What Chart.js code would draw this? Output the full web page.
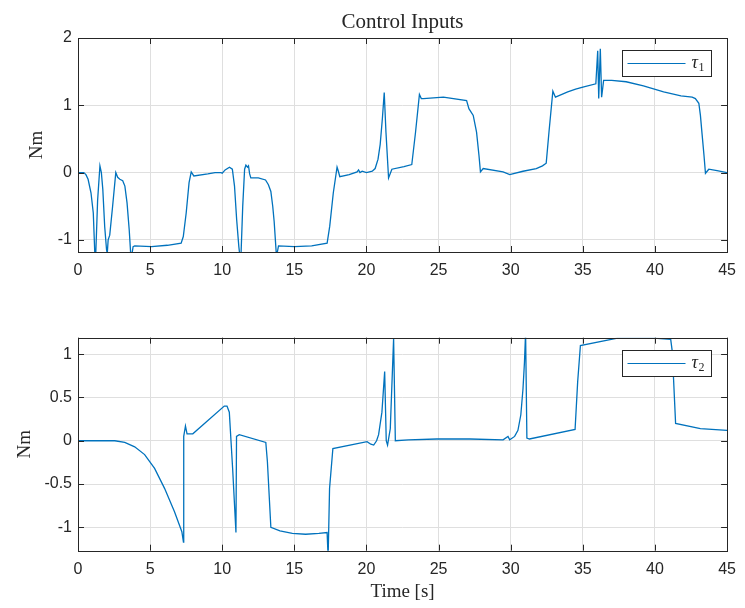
<!DOCTYPE html>
<html>
<head>
<meta charset="utf-8">
<title>Control Inputs</title>
<script src="https://cdn.jsdelivr.net/npm/chart.js@4/dist/chart.umd.min.js"></script>
<style>
  body { margin: 0; background: #fff; }
  canvas { display: block; }
</style>
</head>
<body>
<canvas id="tau1Chart" width="745" height="300"></canvas>
<canvas id="tau2Chart" width="745" height="308"></canvas>
<script>
const xTicks = [0, 5, 10, 15, 20, 25, 30, 35, 40, 45];
const tau1Ticks = [-1, 0, 1, 2];
const tau2Ticks = [-1, -0.5, 0, 0.5, 1];

// tau1
const tau1Time = [
  0, 0.4, 0.55, 0.7, 0.9, 1.06, 1.2, 1.36, 1.52, 1.62, 1.72,
  1.85, 1.98, 2.03, 2.09, 2.2, 2.4, 2.62, 2.75, 2.9, 3.1,
  3.25, 3.4, 3.55, 3.68, 3.82, 3.93, 5.1, 6.2, 7.15, 7.3,
  7.5, 7.7, 7.85, 8.03, 9.0, 9.5, 9.92, 10.0, 10.2, 10.5,
  10.7, 10.85, 11.0, 11.15, 11.28, 11.42, 11.55, 11.64, 11.75, 11.82,
  11.9, 11.98, 12.5, 13.0, 13.2, 13.37, 13.5, 13.6, 13.76, 13.9,
  15.0, 16.2, 17.27, 17.45, 17.7, 17.96, 18.05, 18.15, 18.8, 19.35,
  19.45, 19.55, 19.7, 20.0, 20.4, 20.6, 20.8, 20.95, 21.1, 21.23, 21.35,
  21.53, 21.76, 22.6, 23.14, 23.4, 23.67, 23.8, 23.95, 25.33, 26.94,
  27.1, 27.4, 27.63, 27.8, 27.9, 28.09, 29.47, 29.93, 30.85, 31.77,
  32.2, 32.46, 32.65, 32.92, 33.1, 33.95, 34.5, 35.0, 35.9, 36.03, 36.1, 36.21,
  36.3, 36.44, 37.0, 38.0, 39.2, 40.6, 41.8, 42.58, 42.8, 43.04, 43.15,
  43.27, 43.4, 43.5, 43.73, 44.3, 45
];
const tau1Value = [
  0, 0, -0.03, -0.1, -0.3, -0.6, -1.4, -0.41, 0.1, 0.0, -0.25,
  -0.8, -1.15, -1.2, -1.0, -0.93, -0.5, 0, -0.07, -0.1, -0.12,
  -0.2, -0.45, -0.85, -1.3, -1.1, -1.09, -1.1, -1.08, -1.05, -0.95,
  -0.6, -0.15, 0.01, -0.05, -0.02, 0, 0, -0.01, 0.04, 0.08,
  0.05, -0.2, -0.7, -1.1, -1.35, -0.5, 0.05, 0.11, 0.08, 0.1,
  -0.02, -0.08, -0.08, -0.11, -0.18, -0.28, -0.5, -0.73, -1.25, -1.09,
  -1.1, -1.09, -1.05, -0.8, -0.3, 0.08, 0.02, -0.06, -0.03, 0.01,
  0.04, 0, 0.02, 0, 0.02, 0.06, 0.2, 0.42, 0.8, 1.19, 0.6,
  -0.08, 0.05, 0.09, 0.12, 0.6, 1.16, 1.1, 1.1, 1.12, 1.07,
  0.95, 0.85, 0.6, 0.25, 0.01, 0.06, 0.01, -0.03, 0.02, 0.06,
  0.1, 0.14, 0.6, 1.21, 1.12, 1.2, 1.24, 1.27, 1.32, 1.81, 1.1, 1.84,
  1.12, 1.37, 1.37, 1.35, 1.29, 1.2, 1.14, 1.12, 1.1, 1.03, 0.85,
  0.56, 0.25, -0.01, 0.05, 0.03, 0
];

// tau2
const tau2Time = [
  0, 2.55, 3.24, 3.93, 4.62, 5.31, 6.0, 6.69, 7.2, 7.31,
  7.33, 7.45, 7.56, 7.96, 10.14, 10.33, 10.49, 10.72, 10.95, 10.99,
  11.18, 13.02, 13.13, 13.37, 14.0, 14.86, 15.78, 16.7, 17.27, 17.34, 17.44,
  17.67, 20.04, 20.3, 20.5, 20.7, 20.84, 21.07, 21.26, 21.37, 21.46,
  21.65, 21.88, 22.0, 22.9, 24.87, 27.17, 29.47, 29.81, 29.93, 30.27,
  30.5, 30.7, 30.85, 30.95, 31.03, 31.12, 31.3, 34.46, 34.64, 34.83, 37.4, 39.94,
  41.09, 41.2, 41.43, 43.15, 45
];
const tau2Value = [
  0, 0, -0.02, -0.07, -0.16, -0.32, -0.55, -0.82, -1.05, -1.17,
  0.05, 0.17, 0.08, 0.08, 0.4, 0.4, 0.33, -0.32, -1.06, 0.05,
  0.07, -0.02, -0.24, -1.0, -1.04, -1.07, -1.08, -1.07, -1.06, -1.35, -0.55,
  -0.09, -0.01, -0.04, -0.05, 0, 0.07, 0.33, 0.8, 0, -0.05,
  0.14, 1.18, 0, 0.01, 0.02, 0.02, 0.01, 0.05, 0.01, 0.05,
  0.12, 0.3, 0.6, 0.9, 1.25, 0.03, 0.02, 0.13, 0.68, 1.1, 1.185, 1.185,
  1.17, 1.03, 0.2, 0.14, 0.12
];

const axisColor = "#262626";
const gridColor = "#dfdfdf";
const lineColor = "#0072BD";
const sansFont = "'Liberation Sans', Arial, sans-serif";
const serifFont = "'Liberation Serif', 'Times New Roman', serif";

// MATLAB-style box: border all round, inward ticks, legend in the top right corner
const matlabBox = {
  id: "matlabBox",
  afterDraw(chart) {
    const { ctx, chartArea: a, scales } = chart;
    const yTicks = chart.options.plugins.matlabBox.yTicks;
    ctx.save();
    ctx.strokeStyle = axisColor;
    ctx.lineWidth = 1;
    ctx.beginPath();
    xTicks.forEach(v => {
      const x = Math.round(scales.x.getPixelForValue(v)) + 0.5;
      ctx.moveTo(x, a.bottom); ctx.lineTo(x, a.bottom - 6);
      ctx.moveTo(x, a.top); ctx.lineTo(x, a.top + 6);
    });
    yTicks.forEach(v => {
      const y = Math.round(scales.y.getPixelForValue(v)) + 0.5;
      ctx.moveTo(a.left, y); ctx.lineTo(a.left + 6, y);
      ctx.moveTo(a.right, y); ctx.lineTo(a.right - 6, y);
    });
    ctx.stroke();
    ctx.strokeRect(Math.round(a.left) + 0.5, Math.round(a.top) + 0.5,
      Math.round(a.right - a.left), Math.round(a.bottom - a.top));

    // legend
    const ds = chart.data.datasets[0];
    const bw = 89, bh = 26;
    const bx = Math.round(a.right - 16 - bw) + 0.5;
    const by = Math.round(a.top + 12) + 0.5;
    ctx.fillStyle = "#fff";
    ctx.fillRect(bx, by, bw, bh);
    ctx.strokeRect(bx, by, bw, bh);
    const cy = by + bh / 2;
    ctx.strokeStyle = lineColor;
    ctx.lineWidth = 1.2;
    ctx.beginPath();
    ctx.moveTo(bx + 5, cy); ctx.lineTo(bx + 63, cy);
    ctx.stroke();
    ctx.fillStyle = axisColor;
    ctx.textBaseline = "alphabetic";
    ctx.textAlign = "left";
    ctx.font = "italic 18px " + serifFont;
    ctx.fillText(ds.label, bx + 69, cy + 4);
    const w = ctx.measureText(ds.label).width;
    ctx.font = "12px " + serifFont;
    ctx.fillText(ds.sub, bx + 69 + w + 0.5, cy + 7);
    ctx.restore();
  }
};

function makeChart(id, time, values, label, sub, yTicks, yMin, yMax, cfg) {
  const points = time.map((t, i) => ({ x: t, y: values[i] }));
  return new Chart(document.getElementById(id), {
    type: "line",
    data: {
      datasets: [{
        label: label,
        sub: sub,
        data: points,
        borderColor: lineColor,
        borderWidth: 1.3,
        pointRadius: 0,
        tension: 0,
        fill: false
      }]
    },
    options: {
      responsive: false,
      animation: false,
      devicePixelRatio: 1,
      layout: { padding: { left: 0, right: 15, top: cfg.padTop, bottom: 0 } },
      plugins: {
        legend: { display: false },
        tooltip: { enabled: false },
        title: cfg.title,
        matlabBox: { yTicks: yTicks }
      },
      scales: {
        x: {
          type: "linear",
          min: 0,
          max: 45,
          afterBuildTicks: s => { s.ticks = xTicks.map(v => ({ value: v })); },
          afterFit: s => { s.height = cfg.xHeight; },
          ticks: {
            autoSkip: false,
            maxRotation: 0,
            padding: 9,
            color: axisColor,
            font: { family: sansFont, size: 16 },
            callback: v => String(v)
          },
          grid: { color: gridColor, drawTicks: false },
          border: { display: false },
          title: cfg.xTitle
        },
        y: {
          min: yMin,
          max: yMax,
          afterBuildTicks: s => { s.ticks = yTicks.map(v => ({ value: v })); },
          afterFit: s => { s.width = 78; },
          ticks: {
            autoSkip: false,
            padding: 6,
            color: axisColor,
            font: { family: sansFont, size: 16 },
            callback: v => String(v)
          },
          grid: { color: gridColor, drawTicks: false },
          border: { display: false },
          title: {
            display: true,
            text: "Nm",
            color: axisColor,
            font: { family: serifFont, size: 19 },
            padding: { top: cfg.yTitlePad, bottom: 0 }
          }
        }
      }
    },
    plugins: [matlabBox]
  });
}

makeChart("tau1Chart", tau1Time, tau1Value, "τ", "1", tau1Ticks, -1.18, 2, {
  padTop: 0,
  xHeight: 48,
  yTitlePad: 26,
  title: {
    display: true,
    text: "Control Inputs",
    fullSize: false,
    color: axisColor,
    font: { family: serifFont, size: 21, weight: "normal" },
    padding: { top: 10, bottom: 2.8 }
  },
  xTitle: { display: false }
});

makeChart("tau2Chart", tau2Time, tau2Value, "τ", "2", tau2Ticks, -1.27, 1.19, {
  padTop: 37.7,
  xHeight: 57.3,
  yTitlePad: 13.6,
  title: { display: false },
  xTitle: {
    display: true,
    text: "Time [s]",
    color: axisColor,
    font: { family: serifFont, size: 19 },
    padding: { top: 0, bottom: 4.6 }
  }
});
</script>
</body>
</html>
